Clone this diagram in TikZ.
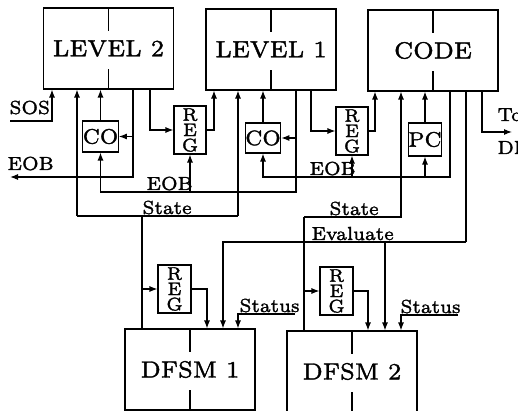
\documentclass[tikz,border=0pt]{standalone}
\usepackage{graphicx}
\usepackage{fontspec}
\newfontfamily\dgf{lmroman7-regular.otf}[FakeBold=1.6]
\usetikzlibrary{arrows.meta}
\newcommand\dgBig[1]{\scalebox{3.35}{\fontsize{7}{8}\dgf #1}}
\newcommand\dgSm[1]{\scalebox{2.7}{\fontsize{7}{8}\dgf #1}}
\newcommand\dgBox[1]{\scalebox{3.0}{\fontsize{7}{8}\dgf #1}}
\newcommand\dgReg{\scalebox{2.6}{\fontsize{7}{5.9}\dgf\vbox{\baselineskip=5.9pt\lineskiplimit=-20pt\halign{\hfil##\hfil\cr R\cr E\cr G\cr}}}}
\begin{document}
\begin{tikzpicture}[x=1pt,y=-1pt,line width=1.1pt,>={Latex[length=8pt,width=6pt]},
  bigbox/.style={draw,minimum width=130pt,minimum height=81pt,inner sep=0pt},
  smallbox/.style={draw,inner sep=0pt},
  lbl/.style={anchor=base west,inner sep=0pt}]
\useasboundingbox (0,0) rectangle (518,411);
% big boxes
\node[bigbox] (L2) at (108.5,48.5) {\dgBig{LEVEL 2}};
\node[bigbox] (L1) at (271,49.5) {\dgBig{LEVEL 1}};
\node[bigbox] (CODE) at (433,50.5) {\dgBig{CODE}};
\node[bigbox] (D1) at (190,369.5) {\dgBig{DFSM 1}};
\node[bigbox] (D2) at (352,371.5) {\dgBig{DFSM 2}};
\foreach \n in {L2,L1,CODE,D1,D2}{\draw (\n.north) -- ++(0,24); \draw (\n.south) -- ++(0,-21);}
% small boxes
\node[smallbox,minimum width=33pt,minimum height=31pt] (CO2) at (100.5,136.5) {\dgBox{CO}};
\node[smallbox,minimum width=31pt,minimum height=30pt] (CO1) at (263,138) {\dgBox{CO}};
\node[smallbox,minimum width=33pt,minimum height=33pt] (PC) at (425,139.5) {\dgBox{PC}};
\node[smallbox,minimum width=32pt,minimum height=48pt] (R1) at (190,130) {\dgReg};
\node[smallbox,minimum width=32pt,minimum height=48pt] (R2) at (352,131) {\dgReg};
\node[smallbox,minimum width=33pt,minimum height=48pt] (R3) at (174.5,289) {\dgReg};
\node[smallbox,minimum width=33pt,minimum height=48pt] (R4) at (336.5,291) {\dgReg};
% labels
\node[lbl] (tSOS) at (9,114) {\dgSm{SOS}};
\node[lbl] (tEOB1) at (7,170) {\dgSm{EOB}};
\node[lbl] (tEOB2) at (146,190) {\dgSm{EOB}};
\node[lbl] (tEOB3) at (309,175) {\dgSm{EOB}};
\node[lbl] (tSt1) at (142,214) {\dgSm{State}};
\node[lbl] (tSt2) at (329,215) {\dgSm{State}};
\node[lbl] (tEv) at (311,240) {\dgSm{Evaluate}};
\node[lbl] (tSu1) at (239,312) {\dgSm{Status}};
\node[lbl] (tSu2) at (400,313) {\dgSm{Status}};
\node[lbl] (tTo) at (497,121) {\dgSm{To}};
\node[lbl] (tDP) at (497,154) {\dgSm{DP}};
% SOS
\coordinate (sos) at (10,121);
\draw[->] (sos) -| (52,0 |- L2.south);
% State (left)
\coordinate (s1L) at (77,216);
\coordinate (s1R) at (238,216);
\coordinate (s1D) at (142,216);
\draw (s1L) -- (s1R);
\draw[->] (s1L) -- (77,0 |- L2.south);
\draw[->] (s1R) -- (238,0 |- L1.south);
\draw (s1D) -- (142,0 |- D1.north);
\draw[->] (142,0 |- R3.west) -- (R3.west);
% State (right)
\coordinate (s2L) at (304,217);
\coordinate (s2R) at (401,217);
\draw[->] (s2L) -- (s2R) -- (401,0 |- CODE.south);
\draw (s2L) -- (304,0 |- D2.north);
\draw[->] (304,0 |- R4.west) -- (R4.west);
% Evaluate
\coordinate (ev) at (466,242);
\coordinate (evb) at (385,242);
\draw (466,0 |- CODE.south) -- (ev);
\draw[->] (ev) -| (223,0 |- D1.north);
\draw[->] (evb) -- (385,0 |- D2.north);
% REG outputs to DFSM
\draw[->] (R3.east) -| (207,0 |- D1.north);
\draw[->] (R4.east) -| (368,0 |- D2.north);
% Status
\coordinate (st1) at (295,314);
\coordinate (st2) at (458,315);
\draw[->] (st1) -| (238,0 |- D1.north);
\draw[->] (st2) -| (401,0 |- D2.north);
% LEVEL 2 -> REG -> LEVEL 1
\draw[->] (150,0 |- L2.south) |- (R1.west);
\draw[->] (R1.east) -| (214,0 |- L1.south);
\draw[->] (CO2.north) -- (CO2.north |- L2.south);
\draw[->] (CO1.north) -- (CO1.north |- L1.south);
% EOB from LEVEL 2
\coordinate (e2) at (133,177);
\coordinate (eobout) at (10,177);
\draw[->] (133,0 |- L2.south) -- (e2) -- (eobout);
\draw[->] (133,0 |- CO2.east) -- (CO2.east);
% EOB from LEVEL 1
\coordinate (e1) at (296,192);
\draw[->] (296,0 |- L1.south) -- (e1) -| (CO2.south);
\draw[->] (R1.south |- e1) -- (R1.south);
\draw[->] (296,0 |- CO1.east) -- (CO1.east);
% EOB from CODE
\coordinate (e0) at (450,177);
\draw[->] (450,0 |- CODE.south) -- (e0) -| (CO1.south);
\draw[->] (R2.south |- e0) -- (R2.south);
\draw[->] (PC.south |- e0) -- (PC.south);
% LEVEL 1 -> REG -> CODE
\draw[->] (311,0 |- L1.south) |- (R2.west);
\draw[->] (R2.east) -| (375,0 |- CODE.south);
\draw[->] (PC.north) -- (PC.north |- CODE.south);
% To DP
\coordinate (dp) at (512,132);
\draw[->] (482,0 |- CODE.south) |- (dp);
\end{tikzpicture}
\end{document}
